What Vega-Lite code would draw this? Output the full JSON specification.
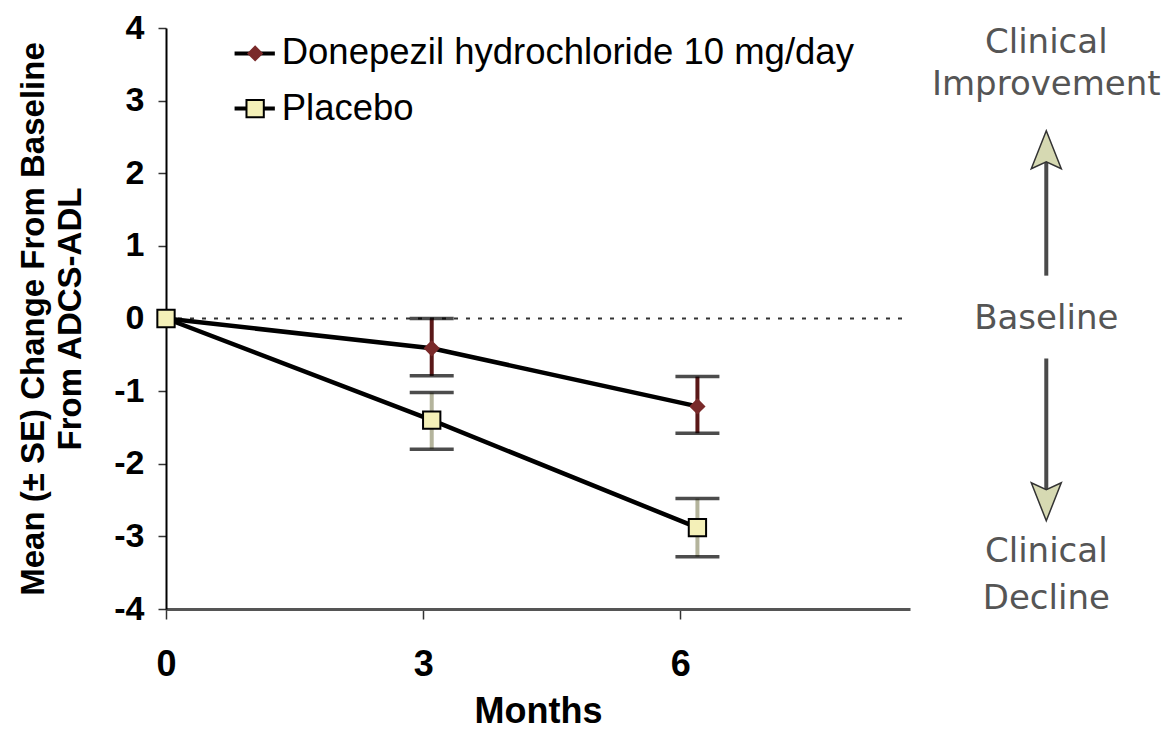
{
  "$schema": "https://vega.github.io/schema/vega-lite/v6.json",
  "width": 744,
  "height": 581,
  "autosize": {"type": "none"},
  "padding": {"left": 166, "top": 28, "right": 265, "bottom": 125},
  "background": "white",
  "config": {"view": {"stroke": null}, "font": "Liberation Sans"},
  "datasets": {
    "series": [
      {"series": "Donepezil", "month": 0, "mean": 0, "lo": null, "hi": null},
      {"series": "Donepezil", "month": 3.1, "mean": -0.41, "lo": -0.79, "hi": 0.0},
      {"series": "Donepezil", "month": 6.2, "mean": -1.21, "lo": -1.58, "hi": -0.8},
      {"series": "Placebo", "month": 0, "mean": 0, "lo": null, "hi": null},
      {"series": "Placebo", "month": 3.1, "mean": -1.4, "lo": -1.8, "hi": -1.02},
      {"series": "Placebo", "month": 6.2, "mean": -2.88, "lo": -3.28, "hi": -2.48}
    ],
    "baseline": [{"x": 0, "x2": 8.6, "y": 0}],
    "legend": [
      {"series": "Donepezil", "x1": 0.8, "x2": 1.27, "xm": 1.04, "xt": 1.35, "y": 3.65, "label": "Donepezil hydrochloride 10 mg/day"},
      {"series": "Placebo", "x1": 0.8, "x2": 1.27, "xm": 1.04, "xt": 1.35, "y": 2.89, "label": "Placebo"}
    ],
    "notes": [
      {"label": "Clinical", "x": 10.27, "y": 3.8},
      {"label": "Improvement", "x": 10.27, "y": 3.21},
      {"label": "Baseline", "x": 10.27, "y": 0},
      {"label": "Clinical", "x": 10.27, "y": -3.21},
      {"label": "Decline", "x": 10.27, "y": -3.86}
    ],
    "shafts": [
      {"x": 10.27, "y1": 0.59, "y2": 2.2},
      {"x": 10.27, "y1": -0.55, "y2": -2.45}
    ],
    "heads": [
      {"dir": "up", "x": 10.27, "y": 2.31},
      {"dir": "down", "x": 10.27, "y": -2.51}
    ]
  },
  "layer": [
    {
      "data": {"name": "baseline"},
      "mark": {"type": "rule", "color": "#333", "strokeWidth": 2, "strokeDash": [4, 8]},
      "encoding": {
        "x": {
          "field": "x", "type": "quantitative", "scale": {"domain": [0, 8.68], "nice": false},
          "axis": {
            "values": [0, 3, 6], "title": "Months", "grid": false, "labelExpr": "'' + datum.value",
            "titleFontSize": 36, "titleFontWeight": "bold", "titleColor": "black", "titlePadding": 12,
            "labelFontSize": 36, "labelFontWeight": "bold", "labelColor": "black", "labelPadding": 28, "labelFlush": false,
            "tickSize": 10, "tickColor": "#333", "tickWidth": 1.5,
            "domainColor": "#555", "domainWidth": 3
          }
        },
        "x2": {"field": "x2"},
        "y": {
          "field": "y", "type": "quantitative", "scale": {"domain": [-4, 4], "nice": false},
          "axis": {
            "values": [-4, -3, -2, -1, 0, 1, 2, 3, 4], "grid": false, "labelExpr": "'' + datum.value",
            "title": ["Mean (± SE) Change From Baseline", "From ADCS-ADL"],
            "titleFontSize": 33, "titleFontWeight": "bold", "titleColor": "black", "titleLineHeight": 37, "titlePadding": 26,
            "labelFontSize": 34, "labelFontWeight": "bold", "labelColor": "black", "labelPadding": 14,
            "tickSize": 8, "tickColor": "#333", "tickWidth": 1.5,
            "domainColor": "black", "domainWidth": 2
          }
        }
      }
    },
    {
      "data": {"name": "series"},
      "mark": {"type": "line", "color": "black", "strokeWidth": 4.5},
      "encoding": {
        "detail": {"field": "series"},
        "x": {"field": "month", "type": "quantitative"},
        "y": {"field": "mean", "type": "quantitative"}
      }
    },
    {
      "data": {"name": "series"},
      "transform": [{"filter": "datum.lo != null"}],
      "mark": {"type": "rule", "strokeWidth": 4},
      "encoding": {
        "x": {"field": "month", "type": "quantitative"},
        "y": {"field": "lo", "type": "quantitative"},
        "y2": {"field": "hi"},
        "color": {"field": "series", "type": "nominal", "scale": {"domain": ["Donepezil", "Placebo"], "range": ["#5a1818", "#b4b49c"]}, "legend": null}
      }
    },
    {
      "data": {"name": "series"},
      "transform": [{"filter": "datum.lo != null"}, {"fold": ["lo", "hi"], "as": ["end", "val"]}],
      "mark": {"type": "tick", "orient": "horizontal", "color": "black", "thickness": 3.5, "size": 44},
      "encoding": {
        "x": {"field": "month", "type": "quantitative"},
        "y": {"field": "val", "type": "quantitative"}
      }
    },
    {
      "data": {"name": "series"},
      "mark": {"type": "point", "filled": true, "strokeWidth": 2, "opacity": 1},
      "encoding": {
        "x": {"field": "month", "type": "quantitative"},
        "y": {"field": "mean", "type": "quantitative"},
        "shape": {"field": "series", "type": "nominal", "scale": {"domain": ["Donepezil", "Placebo"], "range": ["diamond", "square"]}, "legend": null},
        "size": {"field": "series", "type": "nominal", "scale": {"domain": ["Donepezil", "Placebo"], "range": [180, 300]}, "legend": null},
        "fill": {"field": "series", "type": "nominal", "scale": {"domain": ["Donepezil", "Placebo"], "range": ["#7a2a2a", "#f4f0b8"]}, "legend": null},
        "stroke": {"field": "series", "type": "nominal", "scale": {"domain": ["Donepezil", "Placebo"], "range": ["#7a2a2a", "black"]}, "legend": null}
      }
    },
    {
      "data": {"name": "legend"},
      "mark": {"type": "rule", "color": "black", "strokeWidth": 4},
      "encoding": {
        "x": {"field": "x1", "type": "quantitative"},
        "x2": {"field": "x2"},
        "y": {"field": "y", "type": "quantitative"}
      }
    },
    {
      "data": {"name": "legend"},
      "mark": {"type": "point", "filled": true, "strokeWidth": 2, "opacity": 1},
      "encoding": {
        "x": {"field": "xm", "type": "quantitative"},
        "y": {"field": "y", "type": "quantitative"},
        "shape": {"field": "series", "type": "nominal", "legend": null},
        "size": {"field": "series", "type": "nominal", "legend": null},
        "fill": {"field": "series", "type": "nominal", "legend": null},
        "stroke": {"field": "series", "type": "nominal", "legend": null}
      }
    },
    {
      "data": {"name": "legend"},
      "mark": {"type": "text", "align": "left", "baseline": "middle", "fontSize": 36.5, "font": "Liberation Sans", "color": "black"},
      "encoding": {
        "x": {"field": "xt", "type": "quantitative"},
        "y": {"field": "y", "type": "quantitative"},
        "text": {"field": "label"}
      }
    },
    {
      "data": {"name": "shafts"},
      "mark": {"type": "rule", "color": "#4a4a4a", "strokeWidth": 4},
      "encoding": {
        "x": {"field": "x", "type": "quantitative"},
        "y": {"field": "y1", "type": "quantitative"},
        "y2": {"field": "y2"}
      }
    },
    {
      "data": {"name": "heads"},
      "transform": [{"filter": "datum.dir == 'up'"}],
      "mark": {"type": "point", "shape": "M0,-1L0.75,0.9L0,0.55L-0.75,0.9Z", "filled": true, "fill": "#d6d9b2", "stroke": "#333", "strokeWidth": 1.5, "opacity": 1, "size": 1600},
      "encoding": {
        "x": {"field": "x", "type": "quantitative"},
        "y": {"field": "y", "type": "quantitative"}
      }
    },
    {
      "data": {"name": "heads"},
      "transform": [{"filter": "datum.dir == 'down'"}],
      "mark": {"type": "point", "shape": "M0,1L0.75,-0.9L0,-0.55L-0.75,-0.9Z", "filled": true, "fill": "#d6d9b2", "stroke": "#333", "strokeWidth": 1.5, "opacity": 1, "size": 1600},
      "encoding": {
        "x": {"field": "x", "type": "quantitative"},
        "y": {"field": "y", "type": "quantitative"}
      }
    },
    {
      "data": {"name": "notes"},
      "mark": {"type": "text", "align": "center", "baseline": "middle", "fontSize": 34, "font": "DejaVu Sans", "color": "#555"},
      "encoding": {
        "x": {"field": "x", "type": "quantitative"},
        "y": {"field": "y", "type": "quantitative"},
        "text": {"field": "label"}
      }
    }
  ]
}
